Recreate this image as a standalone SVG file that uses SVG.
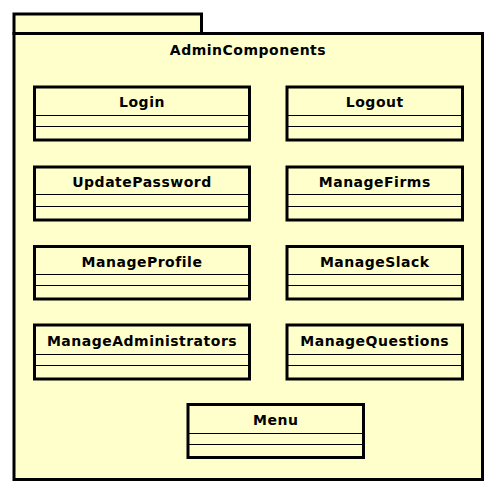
<svg xmlns="http://www.w3.org/2000/svg" width="494" height="492" viewBox="0 0 494 492">
<style>
.pkg{fill:#FFFFCC;stroke:#000;stroke-width:3}
.box{fill:#FFFFCC;stroke:#000;stroke-width:3}
.sep{stroke:#000;stroke-width:1}
text{font-family:"DejaVu Sans",Verdana,sans-serif;font-weight:bold;font-size:14px;letter-spacing:0.5px;text-anchor:middle;fill:#000}
</style>
<rect width="494" height="492" fill="#fff"/>
<g id="AdminComponents">
<rect class="pkg" x="14" y="14" width="187.5" height="19.5"/>
<rect class="pkg" x="14" y="33.5" width="468.5" height="446"/>
<text x="248" y="55">AdminComponents</text>
</g>
<g id="Login">
<rect class="box" x="34.5" y="87" width="215" height="53"/>
<line class="sep" x1="34.5" y1="115.5" x2="249.5" y2="115.5"/>
<line class="sep" x1="34.5" y1="126.5" x2="249.5" y2="126.5"/>
<text x="142" y="107">Login</text>
</g>
<g id="Logout">
<rect class="box" x="287" y="87" width="175.5" height="53"/>
<line class="sep" x1="287" y1="115.5" x2="462.5" y2="115.5"/>
<line class="sep" x1="287" y1="126.5" x2="462.5" y2="126.5"/>
<text x="374.75" y="107">Logout</text>
</g>
<g id="UpdatePassword">
<rect class="box" x="34.5" y="167" width="215" height="53"/>
<line class="sep" x1="34.5" y1="194.5" x2="249.5" y2="194.5"/>
<line class="sep" x1="34.5" y1="206.5" x2="249.5" y2="206.5"/>
<text x="142" y="187">UpdatePassword</text>
</g>
<g id="ManageFirms">
<rect class="box" x="287" y="167" width="175.5" height="53"/>
<line class="sep" x1="287" y1="194.5" x2="462.5" y2="194.5"/>
<line class="sep" x1="287" y1="206.5" x2="462.5" y2="206.5"/>
<text x="374.75" y="187">ManageFirms</text>
</g>
<g id="ManageProfile">
<rect class="box" x="34.5" y="246.5" width="215" height="52.5"/>
<line class="sep" x1="34.5" y1="274.5" x2="249.5" y2="274.5"/>
<line class="sep" x1="34.5" y1="285.5" x2="249.5" y2="285.5"/>
<text x="142" y="266.5">ManageProfile</text>
</g>
<g id="ManageSlack">
<rect class="box" x="287" y="246.5" width="175.5" height="52.5"/>
<line class="sep" x1="287" y1="274.5" x2="462.5" y2="274.5"/>
<line class="sep" x1="287" y1="285.5" x2="462.5" y2="285.5"/>
<text x="374.75" y="266.5">ManageSlack</text>
</g>
<g id="ManageAdministrators">
<rect class="box" x="34.5" y="325" width="215" height="54"/>
<line class="sep" x1="34.5" y1="354.5" x2="249.5" y2="354.5"/>
<line class="sep" x1="34.5" y1="365.5" x2="249.5" y2="365.5"/>
<text x="142" y="345.5">ManageAdministrators</text>
</g>
<g id="ManageQuestions">
<rect class="box" x="287" y="325" width="175.5" height="54"/>
<line class="sep" x1="287" y1="354.5" x2="462.5" y2="354.5"/>
<line class="sep" x1="287" y1="365.5" x2="462.5" y2="365.5"/>
<text x="374.75" y="345.5">ManageQuestions</text>
</g>
<g id="Menu">
<rect class="box" x="188" y="404.5" width="175.5" height="53"/>
<line class="sep" x1="188" y1="433.5" x2="363.5" y2="433.5"/>
<line class="sep" x1="188" y1="444.5" x2="363.5" y2="444.5"/>
<text x="275.75" y="424.5">Menu</text>
</g>
<g id="connectors"/>
</svg>
